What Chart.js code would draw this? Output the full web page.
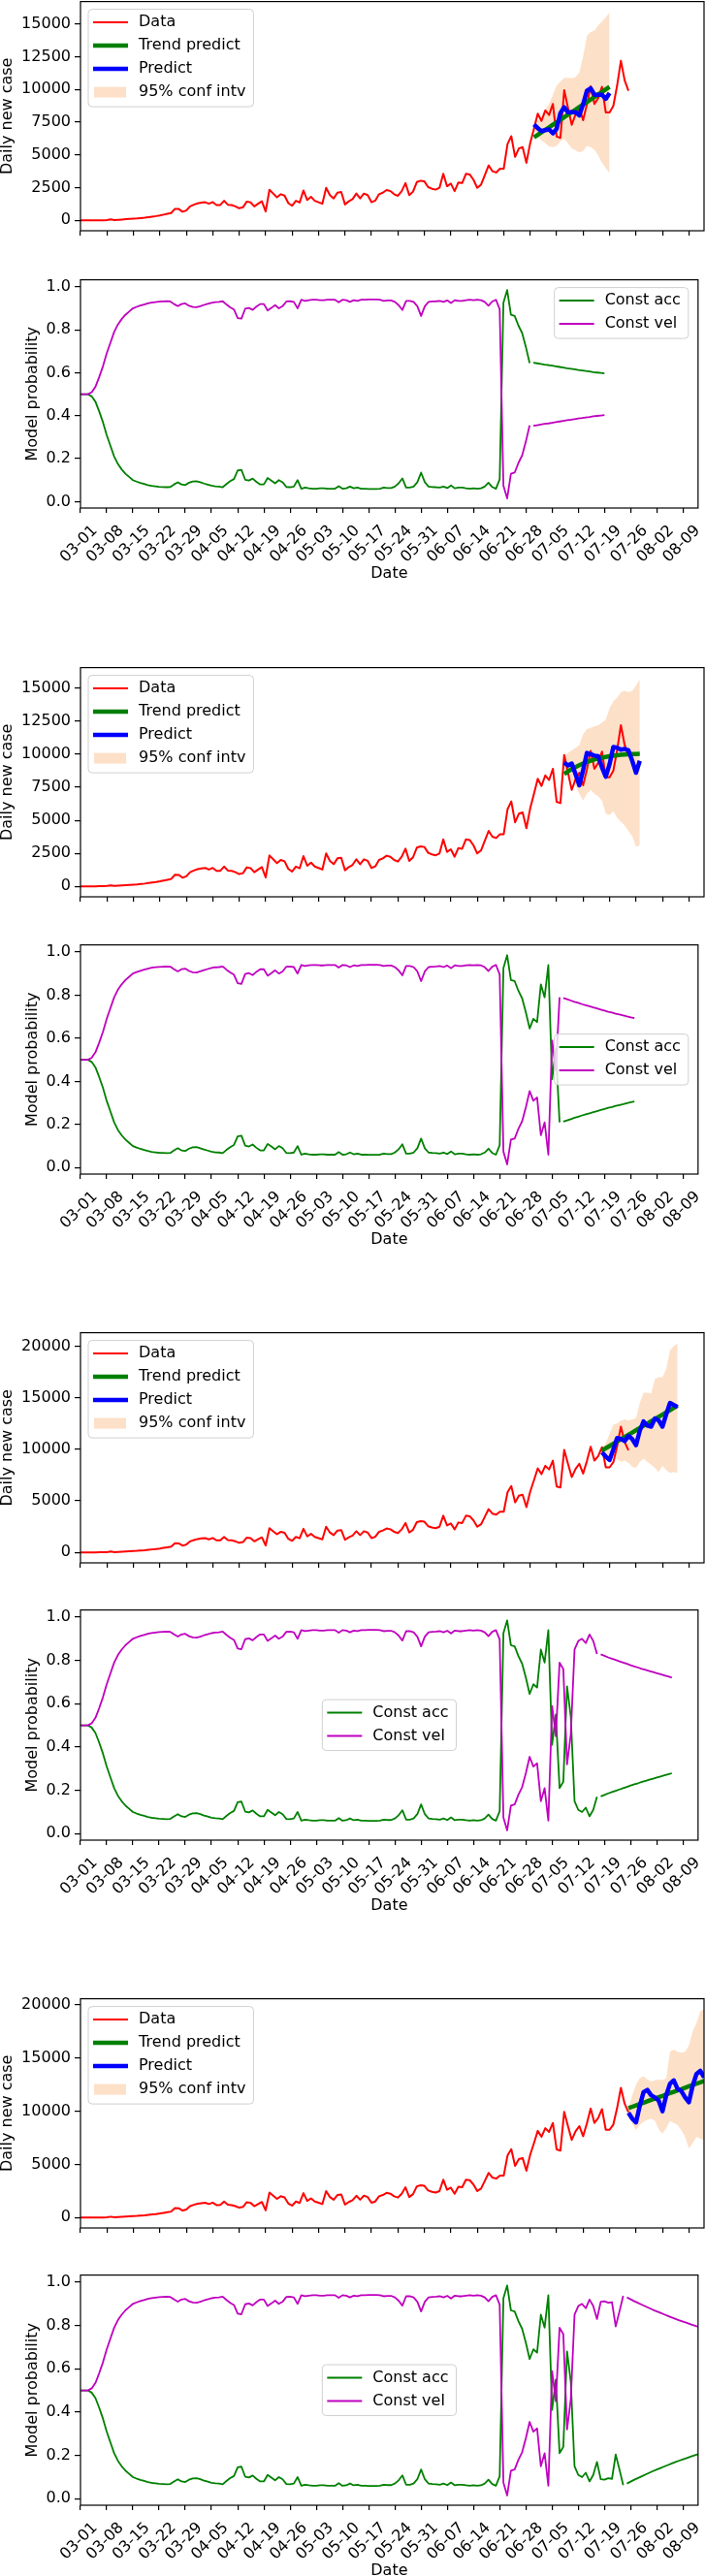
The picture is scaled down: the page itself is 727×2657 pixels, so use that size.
<!DOCTYPE html>
<html lang="en">
<head>
  <meta charset="UTF-8" />
  <title>Daily new cases forecast and model probability</title>
  <script src="https://cdn.jsdelivr.net/npm/chart.js"></script>
  <style>
    body { margin: 0; background: #fff; width: 727px; height: 2657px; position: relative; overflow: hidden; }
    canvas { position: absolute; left: 0; }
  </style>
</head>
<body>
<script>
  // x axis: days since 03-01, one tick a week
  const dateTicks = ['03-01', '03-08', '03-15', '03-22', '03-29', '04-05', '04-12', '04-19',
    '04-26', '05-03', '05-10', '05-17', '05-24', '05-31', '06-07', '06-14', '06-21', '06-28',
    '07-05', '07-12', '07-19', '07-26', '08-02', '08-09'];
  const caseTicks15 = [0, 2500, 5000, 7500, 10000, 12500, 15000];
  const caseTicks20 = [0, 5000, 10000, 15000, 20000];
  const probTicks = [0, 0.2, 0.4, 0.6, 0.8, 1.0];
  const probTickLabels = ['0.0', '0.2', '0.4', '0.6', '0.8', '1.0'];

  // observed daily new cases, day 0 = 03-01
  const dailyCases = [0, 0, 0, 0, 5, 10, 10, 30, 80, 30,
    50, 70, 90, 110, 130, 150, 180, 210, 250, 290,
    330, 380, 440, 500, 560, 880, 870, 660, 760, 1070,
    1200, 1300, 1350, 1390, 1270, 1400, 1170, 1180, 1500, 1200,
    1170, 1070, 930, 1000, 1440, 1380, 1070, 1270, 1460, 680,
    2340, 2050, 1760, 2000, 1900, 1320, 1120, 1500, 1370, 2290,
    1560, 1800, 1500, 1390, 1270, 2490, 1930, 1680, 2120, 2170,
    1220, 1460, 1630, 2050, 1680, 2050, 1930, 1390, 1510, 2000,
    2120, 2320, 2240, 2000, 1880, 2240, 2850, 1930, 2200, 2930,
    3030, 2980, 2540, 2420, 2350, 2490, 3560, 2610, 2810, 2240,
    2900, 2850, 3560, 3510, 3100, 2490, 2730, 3460, 4200, 3760,
    3660, 3950, 3950, 5830, 6430, 4850, 5500, 5600, 4400, 5900,
    7000, 8150, 7600, 8400, 8050, 8900, 6400, 6300, 9950, 8600,
    7300, 8100, 8600, 7650, 8850, 10250, 8900, 9350, 10200, 8250,
    8250, 8750, 10300, 12200, 10700, 9900];

  // filtered model probabilities, same days as dailyCases
  const accProb = [0.50, 0.50, 0.50, 0.49, 0.465, 0.42, 0.37, 0.31, 0.26, 0.21,
    0.175, 0.15, 0.13, 0.115, 0.10, 0.093, 0.087, 0.082, 0.077, 0.073,
    0.071, 0.069, 0.068, 0.067, 0.068, 0.08, 0.09, 0.08, 0.077, 0.088,
    0.094, 0.095, 0.09, 0.084, 0.079, 0.074, 0.071, 0.07, 0.067, 0.082,
    0.095, 0.105, 0.145, 0.148, 0.102, 0.098, 0.107, 0.092, 0.08, 0.08,
    0.11, 0.098, 0.085, 0.10, 0.09, 0.068, 0.067, 0.07, 0.10, 0.06,
    0.065, 0.062, 0.06, 0.06, 0.062, 0.062, 0.06, 0.06, 0.06, 0.072,
    0.06, 0.062, 0.07, 0.062, 0.065, 0.06, 0.06, 0.059, 0.059, 0.059,
    0.06, 0.065, 0.063, 0.063, 0.07, 0.085, 0.108, 0.065, 0.065, 0.07,
    0.09, 0.135, 0.09, 0.07, 0.068, 0.067, 0.065, 0.07, 0.063, 0.075,
    0.062, 0.065, 0.065, 0.062, 0.06, 0.062, 0.06, 0.062, 0.07, 0.088,
    0.068, 0.06, 0.104, 0.926, 0.985, 0.87, 0.865, 0.82, 0.785, 0.72,
    0.645, 0.69, 0.675, 0.85, 0.79, 0.94, 0.41, 0.55, 0.21, 0.24,
    0.68, 0.54, 0.15, 0.11, 0.10, 0.12, 0.08, 0.11, 0.17, 0.09,
    0.088, 0.095, 0.092, 0.204, 0.135, 0.063];
  const velProb = [0.50, 0.50, 0.50, 0.51, 0.535, 0.58, 0.63, 0.69, 0.74, 0.79,
    0.825, 0.85, 0.87, 0.885, 0.90, 0.907, 0.913, 0.918, 0.923, 0.927,
    0.929, 0.931, 0.932, 0.933, 0.932, 0.92, 0.91, 0.92, 0.923, 0.912,
    0.906, 0.905, 0.91, 0.916, 0.921, 0.926, 0.929, 0.93, 0.933, 0.918,
    0.905, 0.895, 0.855, 0.852, 0.898, 0.902, 0.893, 0.908, 0.92, 0.92,
    0.89, 0.902, 0.915, 0.90, 0.91, 0.932, 0.933, 0.93, 0.90, 0.94,
    0.935, 0.938, 0.94, 0.94, 0.938, 0.938, 0.94, 0.94, 0.94, 0.928,
    0.94, 0.938, 0.93, 0.938, 0.935, 0.94, 0.94, 0.941, 0.941, 0.941,
    0.94, 0.935, 0.937, 0.937, 0.93, 0.915, 0.892, 0.935, 0.935, 0.93,
    0.91, 0.865, 0.91, 0.93, 0.932, 0.933, 0.935, 0.93, 0.937, 0.925,
    0.938, 0.935, 0.935, 0.938, 0.94, 0.938, 0.94, 0.938, 0.93, 0.912,
    0.932, 0.94, 0.896, 0.074, 0.015, 0.13, 0.135, 0.18, 0.215, 0.28,
    0.355, 0.31, 0.325, 0.15, 0.21, 0.06, 0.59, 0.45, 0.79, 0.76,
    0.32, 0.46, 0.85, 0.89, 0.90, 0.88, 0.92, 0.89, 0.83, 0.91,
    0.912, 0.905, 0.908, 0.796, 0.865, 0.937];

  // four forecast runs, each 21 days from its start day
  const forecastStart = [120, 128, 138, 145];

  const predict1 = [7330, 7050, 6820, 6900, 6950, 6650, 7000, 8200, 8650, 8260, 8260, 8260, 8020, 8870, 9900, 10090, 9600, 9600, 9600, 9290, 9720];
  const trend1 = [6340, 6530, 6730, 6920, 7110, 7310, 7500, 7690, 7880, 8080, 8270, 8460, 8660, 8850, 9040, 9240, 9430, 9620, 9810, 10010, 10200];
  const upper1 = [7700, 7600, 8000, 8500, 8900, 9600, 10300, 10600, 10900, 10900, 10850, 10950, 11300, 12500, 14100, 14400, 14500, 14900, 15200, 15500, 15900];
  const lower1 = [6900, 6450, 6100, 5900, 5650, 5600, 5700, 6050, 6250, 5900, 5500, 5350, 5200, 5300, 5700, 5600, 5400, 4950, 4400, 4000, 3600];

  const predict2 = [9370, 9150, 9300, 8500, 7650, 8800, 10100, 10000, 9900, 9850, 9000, 8300, 9250, 10550, 10500, 10350, 10400, 10300, 9500, 8600, 9500];
  const trend2 = [8500, 8700, 8880, 9030, 9170, 9300, 9410, 9510, 9600, 9680, 9740, 9800, 9850, 9890, 9930, 9960, 9980, 10000, 10010, 10020, 10030];
  const upper2 = [9900, 10100, 10300, 10500, 10700, 11500, 11900, 12000, 12100, 12200, 12400, 12600, 13500, 14000, 14300, 14700, 14800, 14700, 14800, 15200, 15700];
  const lower2 = [8900, 8500, 8000, 7600, 7000, 6500, 7000, 7300, 7000, 6800, 6500, 5500, 5400, 5700, 5200, 4900, 4600, 4200, 3800, 3000, 3100];

  const predict3 = [9700, 9300, 8960, 10000, 11100, 11000, 10800, 11300, 11000, 10400, 11800, 12700, 12300, 12200, 13000, 12800, 12200, 13400, 14500, 14300, 14100];
  const trend3 = [9890, 10110, 10320, 10540, 10760, 10980, 11190, 11410, 11630, 11850, 12070, 12280, 12500, 12720, 12930, 13150, 13370, 13590, 13800, 14020, 14240];
  const upper3 = [10000, 10600, 11500, 12400, 12500, 12800, 12900, 12800, 12900, 13000, 14500, 15500, 15500, 15400, 16800, 17000, 17000, 17800, 19600, 20000, 20300];
  const lower3 = [9400, 9200, 8900, 9500, 9000, 8800, 8900, 8700, 8300, 8200, 8800, 9100, 8800, 8500, 8200, 7800, 8400, 8000, 7700, 7800, 7700];

  const predict4 = [9840, 9300, 8940, 10500, 11800, 12000, 11500, 11300, 11000, 10000, 11500, 12600, 12900, 12100, 11900, 11300, 10850, 12400, 13500, 13800, 13200];
  const trend4 = [10290, 10420, 10550, 10680, 10800, 10930, 11060, 11190, 11320, 11440, 11570, 11700, 11830, 11960, 12080, 12210, 12340, 12470, 12600, 12720, 12850];
  const upper4 = [10300, 11500, 12500, 13100, 13300, 13000, 12800, 12900, 13000, 12900, 13100, 15600, 15800, 15600, 15500, 15600, 16200, 17500, 18300, 19400, 19600];
  const lower4 = [9700, 8800, 8200, 8700, 9000, 9200, 9300, 9100, 8300, 7900, 8400, 9100, 8900, 8700, 8200, 7600, 6500, 7000, 7600, 7400, 7300];

  // model probability carried forward over the 20 forecast days
  const accExt1 = [0.647, 0.644, 0.641, 0.638, 0.636, 0.633, 0.630, 0.627, 0.624, 0.621, 0.619, 0.616, 0.613, 0.611, 0.608, 0.606, 0.603, 0.601, 0.599, 0.597];
  const velExt1 = [0.353, 0.356, 0.359, 0.362, 0.364, 0.367, 0.370, 0.373, 0.376, 0.379, 0.381, 0.384, 0.387, 0.389, 0.392, 0.394, 0.397, 0.399, 0.401, 0.403];
  const accExt2 = [0.213, 0.219, 0.225, 0.231, 0.236, 0.242, 0.247, 0.252, 0.257, 0.262, 0.267, 0.272, 0.277, 0.281, 0.286, 0.290, 0.294, 0.299, 0.303, 0.307];
  const velExt2 = [0.787, 0.781, 0.775, 0.769, 0.764, 0.758, 0.753, 0.748, 0.743, 0.738, 0.733, 0.728, 0.723, 0.719, 0.714, 0.710, 0.706, 0.701, 0.697, 0.693];
  const accExt3 = [0.172, 0.179, 0.186, 0.192, 0.198, 0.204, 0.210, 0.216, 0.222, 0.228, 0.233, 0.239, 0.244, 0.249, 0.254, 0.259, 0.264, 0.269, 0.274, 0.279];
  const velExt3 = [0.828, 0.821, 0.814, 0.808, 0.802, 0.796, 0.790, 0.784, 0.778, 0.772, 0.767, 0.761, 0.756, 0.751, 0.746, 0.741, 0.736, 0.731, 0.726, 0.721];
  const accExt4 = [0.070, 0.079, 0.088, 0.096, 0.104, 0.112, 0.120, 0.128, 0.135, 0.142, 0.149, 0.156, 0.163, 0.170, 0.176, 0.182, 0.188, 0.194, 0.200, 0.206];
  const velExt4 = [0.930, 0.921, 0.912, 0.904, 0.896, 0.888, 0.880, 0.872, 0.865, 0.858, 0.851, 0.844, 0.837, 0.830, 0.824, 0.818, 0.812, 0.806, 0.800, 0.794];

  const predicts = [predict1, predict2, predict3, predict4];
  const trends = [trend1, trend2, trend3, trend4];
  const uppers = [upper1, upper2, upper3, upper4];
  const lowers = [lower1, lower2, lower3, lower4];
  const accExts = [accExt1, accExt2, accExt3, accExt4];
  const velExts = [velExt1, velExt2, velExt3, velExt4];

  // layout (page px): plot area top/bottom of the 8 panels
  const W = 727, PAD_TOP = 12;
  const plotBoxes = [[0, 238], [287, 524], [687, 925], [973, 1211],
    [1373, 1612], [1659, 1898], [2060, 2298], [2345, 2584]];
  const caseLimits = [[-790, 16720], [-790, 16560], [-1015, 21315], [-980, 20580]];
  const caseTickSets = [caseTicks15, caseTicks15, caseTicks20, caseTicks20];
  const probLegendPos = ['upper right', 'center right', 'center', 'center'];

  const RED = '#ff0000', GREEN = '#008000', BLUE = '#0000ff', MAGENTA = '#bf00bf', BAND = '#fde0c8';

  Chart.defaults.font.family = 'DejaVu Sans';
  Chart.defaults.font.size = 16;
  Chart.defaults.color = '#000';

  function pts(values, first) {
    return values.map((v, i) => ({ x: first + i, y: v }));
  }

  function addCanvas(top, height) {
    const c = document.createElement('canvas');
    c.width = W;
    c.height = height;
    c.style.top = top + 'px';
    c.style.width = W + 'px';
    c.style.height = height + 'px';
    document.body.appendChild(c);
    return c;
  }

  const frame = {
    id: 'frame',
    afterDatasetsDraw(chart) {
      const { ctx, chartArea: a } = chart;
      ctx.save();
      ctx.strokeStyle = '#000';
      ctx.lineWidth = 1.2;
      ctx.strokeRect(a.left, a.top, a.right - a.left, a.bottom - a.top);
      ctx.restore();
    }
  };

  // matplotlib-like legend box
  function mplLegend(entries, pos) {
    return {
      id: 'mplLegend',
      afterDraw(chart) {
        const { ctx, chartArea: a } = chart;
        ctx.save();
        ctx.font = '16px "DejaVu Sans"';
        const textW = Math.max(...entries.map(e => ctx.measureText(e.label).width));
        const w = 52 + textW + 8;
        const h = 13.5 + (entries.length - 1) * 24 + 15;
        let x, y;
        if (pos === 'upper left') { x = a.left + 8; y = a.top + 8; }
        else if (pos === 'upper right') { x = a.right - 10 - w; y = a.top + 8; }
        else if (pos === 'center right') { x = a.right - 10 - w; y = (a.top + a.bottom) / 2 - h / 2; }
        else { x = (a.left + a.right) / 2 - w / 2; y = (a.top + a.bottom) / 2 - h / 2; }
        const r = 4;
        ctx.beginPath();
        ctx.moveTo(x + r, y);
        ctx.arcTo(x + w, y, x + w, y + h, r);
        ctx.arcTo(x + w, y + h, x, y + h, r);
        ctx.arcTo(x, y + h, x, y, r);
        ctx.arcTo(x, y, x + w, y, r);
        ctx.closePath();
        ctx.fillStyle = 'rgba(255,255,255,0.8)';
        ctx.fill();
        ctx.strokeStyle = '#d0d0d0';
        ctx.lineWidth = 1;
        ctx.stroke();
        entries.forEach((e, i) => {
          const cy = y + 13.5 + i * 24;
          if (e.patch) {
            ctx.fillStyle = e.color;
            ctx.fillRect(x + 6, cy - 5.5, 33, 11);
          } else {
            ctx.strokeStyle = e.color;
            ctx.lineWidth = e.width;
            ctx.beginPath();
            ctx.moveTo(x + 5, cy);
            ctx.lineTo(x + 41, cy);
            ctx.stroke();
          }
          ctx.fillStyle = '#000';
          ctx.textBaseline = 'middle';
          ctx.fillText(e.label, x + 52, cy);
        });
        ctx.restore();
      }
    };
  }

  function xScale(labelled, height) {
    return {
      type: 'linear', min: 0, max: 165,
      afterBuildTicks: s => { s.ticks = dateTicks.map((t, i) => ({ value: i * 7 })); },
      afterFit: s => { s.height = height; },
      border: { display: false },
      grid: { drawOnChartArea: false, tickLength: 5, color: '#000', lineWidth: 1.2 },
      ticks: {
        display: labelled, autoSkip: false, minRotation: 45, maxRotation: 45,
        padding: 9, labelOffset: 15, callback: (v, i) => dateTicks[i]
      },
      title: { display: labelled, text: 'Date', padding: { top: 0, bottom: 0 } }
    };
  }

  function yScale(min, max, ticks, labels, title, titlePad) {
    return {
      min: min, max: max,
      afterBuildTicks: s => { s.ticks = ticks.map(v => ({ value: v })); },
      afterFit: s => { s.width = 83; },
      border: { display: false },
      grid: { drawOnChartArea: false, tickLength: 6, color: '#000', lineWidth: 1.2 },
      ticks: { padding: 4, callback: (v, i) => labels[i] },
      title: { display: true, text: title, padding: { top: titlePad, bottom: 0 } }
    };
  }

  function baseOptions(scales) {
    return {
      animation: false, responsive: false, devicePixelRatio: 1, events: [],
      layout: { padding: { top: PAD_TOP, right: 1, bottom: 0, left: 0 } },
      elements: { point: { radius: 0 }, line: { tension: 0, borderJoinStyle: 'round', fill: false } },
      plugins: { legend: { display: false }, tooltip: { enabled: false } },
      scales: scales
    };
  }

  function casesChart(k) {
    const [top, bottom] = plotBoxes[2 * k];
    const s = forecastStart[k];
    const ticks = caseTickSets[k];
    const canvas = addCanvas(top - PAD_TOP, bottom - top + PAD_TOP + 20);
    new Chart(canvas, {
      type: 'line',
      data: {
        datasets: [
          { label: 'Predict', data: pts(predicts[k], s), borderColor: BLUE, borderWidth: 4.5, order: 0 },
          { label: 'Trend predict', data: pts(trends[k], s), borderColor: GREEN, borderWidth: 4.5, order: 1 },
          { label: 'Data', data: pts(dailyCases, 0), borderColor: RED, borderWidth: 2, order: 2 },
          { label: 'lower', data: pts(lowers[k], s), borderWidth: 0, order: 4 },
          { label: '95% conf intv', data: pts(uppers[k], s), borderWidth: 0, backgroundColor: BAND, fill: '-1', order: 3 }
        ]
      },
      options: baseOptions({
        x: xScale(false, 20),
        y: yScale(caseLimits[k][0], caseLimits[k][1], ticks, ticks.map(String), 'Daily new case', -2)
      }),
      plugins: [frame, mplLegend([
        { label: 'Data', color: RED, width: 2 },
        { label: 'Trend predict', color: GREEN, width: 4.5 },
        { label: 'Predict', color: BLUE, width: 4.5 },
        { label: '95% conf intv', color: BAND, patch: true }
      ], 'upper left')]
    });
  }

  function probChart(k) {
    const [top, bottom] = plotBoxes[2 * k + 1];
    const s = forecastStart[k];
    const canvas = addCanvas(top - PAD_TOP, bottom - top + PAD_TOP + 77);
    new Chart(canvas, {
      type: 'line',
      data: {
        datasets: [
          { label: 'Const vel', data: pts(velProb.slice(0, s + 1), 0), borderColor: MAGENTA, borderWidth: 1.8, order: 0 },
          { label: 'Const vel ext', data: pts(velExts[k], s + 1), borderColor: MAGENTA, borderWidth: 1.8, order: 0 },
          { label: 'Const acc', data: pts(accProb.slice(0, s + 1), 0), borderColor: GREEN, borderWidth: 1.8, order: 1 },
          { label: 'Const acc ext', data: pts(accExts[k], s + 1), borderColor: GREEN, borderWidth: 1.8, order: 1 }
        ]
      },
      options: baseOptions({
        x: xScale(true, 77),
        y: yScale(-0.03, 1.033, probTicks, probTickLabels, 'Model probability', 24)
      }),
      plugins: [frame, mplLegend([
        { label: 'Const acc', color: GREEN, width: 2 },
        { label: 'Const vel', color: MAGENTA, width: 2 }
      ], probLegendPos[k])]
    });
  }

  for (let k = 0; k < 4; k++) {
    casesChart(k);
    probChart(k);
  }
</script>
</body>
</html>
